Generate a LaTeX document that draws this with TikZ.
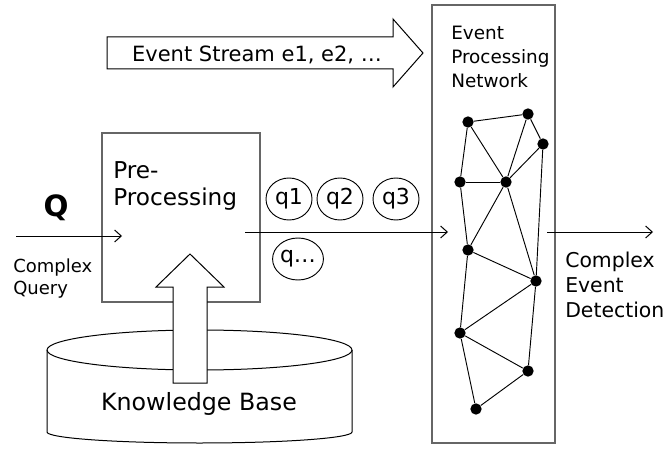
\documentclass[tikz,border=0pt]{standalone}
\usepackage{fontspec}
\setmainfont{DejaVu Sans}
\usetikzlibrary{arrows.meta,shapes.geometric}

\begin{document}
\begin{tikzpicture}[x=0.75pt,y=-0.75pt,
  frame/.style={draw=black!60, line width=1pt, inner sep=0pt},
  outline/.style={draw=black, line width=0.75pt},
  flow/.style={line width=0.75pt, -{Straight Barb[length=5pt,width=9pt,line width=0.75pt]}},
  link/.style={line width=0.7pt},
  vertex/.style={circle, fill=black, inner sep=0pt, minimum size=8.5pt},
  query/.style={ellipse, draw, line width=0.7pt, minimum width=34.5pt, minimum height=31.5pt, inner sep=0pt, font=\fontsize{16.5}{19}\selectfont},
  txt/.style={inner sep=0pt, anchor=base west},
  bigfont/.style={font=\fontsize{17.4}{20}\selectfont},
  midfont/.style={font=\fontsize{15.3}{18}\selectfont},
  smallfont/.style={font=\fontsize{13.8}{16}\selectfont},
]
\useasboundingbox (0,0) rectangle (668,453);

% event stream arrow
\draw[outline, fill=white] (107,37) -- (393,37) -- (393,19) -- (423,53) -- (393,87) -- (393,69) -- (107,69) -- cycle;
\node[inner sep=0pt, anchor=base, font=\fontsize{15.75}{18}\selectfont] (stream) at (257,61.5) {Event Stream e1, e2, …};

% event processing network frame
\node[frame, minimum width=92.25pt, minimum height=328.5pt] (net) at (493.5,224) {};
\node[txt, smallfont] (net1) at (451,40) {Event};
\node[txt, smallfont] (net2) at (451,64) {Processing};
\node[txt, smallfont] (net3) at (451,88) {Network};

% knowledge base cylinder
\draw[outline, fill=white] (47,350) -- (47,432) arc[start angle=180, end angle=0, x radius=152.5, y radius=11] -- (352,350);
\draw[outline] (199.5,350) ellipse [x radius=152.5, y radius=20];
\node[inner sep=0pt, anchor=base, font=\fontsize{17.8}{20}\selectfont] (kb) at (199,410) {Knowledge Base};

% pre-processing box
\node[frame, minimum width=118.5pt, minimum height=126.75pt] (pre) at (181,217.5) {};
\node[txt, bigfont] (pre1) at (113,178) {Pre-};
\node[txt, bigfont] (pre2) at (113,205) {Processing};

% knowledge feeding into pre-processing
\draw[outline, fill=white] (173,383) -- (173,287) -- (156,287) -- (190,254) -- (224,287) -- (207,287) -- (207,383) -- cycle;

% complex query input
\node[inner sep=0pt, anchor=base, font=\fontsize{22}{25}\selectfont\bfseries] (Q) at (56,216) {Q};
\node[txt, font=\fontsize{13.5}{16}\selectfont] (cq1) at (13,272) {Complex};
\node[txt, font=\fontsize{13.5}{16}\selectfont] (cq2) at (13,294) {Query};
\coordinate (qin) at (16,236);
\coordinate (qend) at (122,236);
\draw[flow] (qin) -- (qend);

% sub-queries
\node[query] (q1) at (289,199) {q1};
\node[query] (q2) at (340,199) {q2};
\node[query] (q3) at (396,199) {q3};
\node[query] (qn) at (298,259) {q…};

\coordinate (preout) at (245,232);
\coordinate (netin) at (448,232);
\draw[flow] (preout) -- (netin);

% network vertices
\node[vertex] (a) at (468,122) {};
\node[vertex] (b) at (528,114) {};
\node[vertex] (c) at (543,144) {};
\node[vertex] (d) at (460,182) {};
\node[vertex] (e) at (506,182) {};
\node[vertex] (f) at (468,250) {};
\node[vertex] (g) at (536,281) {};
\node[vertex] (h) at (460,333) {};
\node[vertex] (i) at (528,371) {};
\node[vertex] (j) at (476,409) {};

\foreach \s/\t in {a/b, a/d, a/e, b/e, b/c, c/e, c/g, d/e, d/f, e/f, e/g, f/g, f/h, g/h, g/i, h/i, h/j, i/j}
  \draw[link] (\s) -- (\t);

% detection output
\coordinate (netout) at (547,232);
\coordinate (detect) at (653,232);
\draw[flow] (netout) -- (detect);
\node[txt, midfont] (ced1) at (565,267) {Complex};
\node[txt, midfont] (ced2) at (565,292) {Event};
\node[txt, midfont] (ced3) at (565,317) {Detection};
\end{tikzpicture}
\end{document}
